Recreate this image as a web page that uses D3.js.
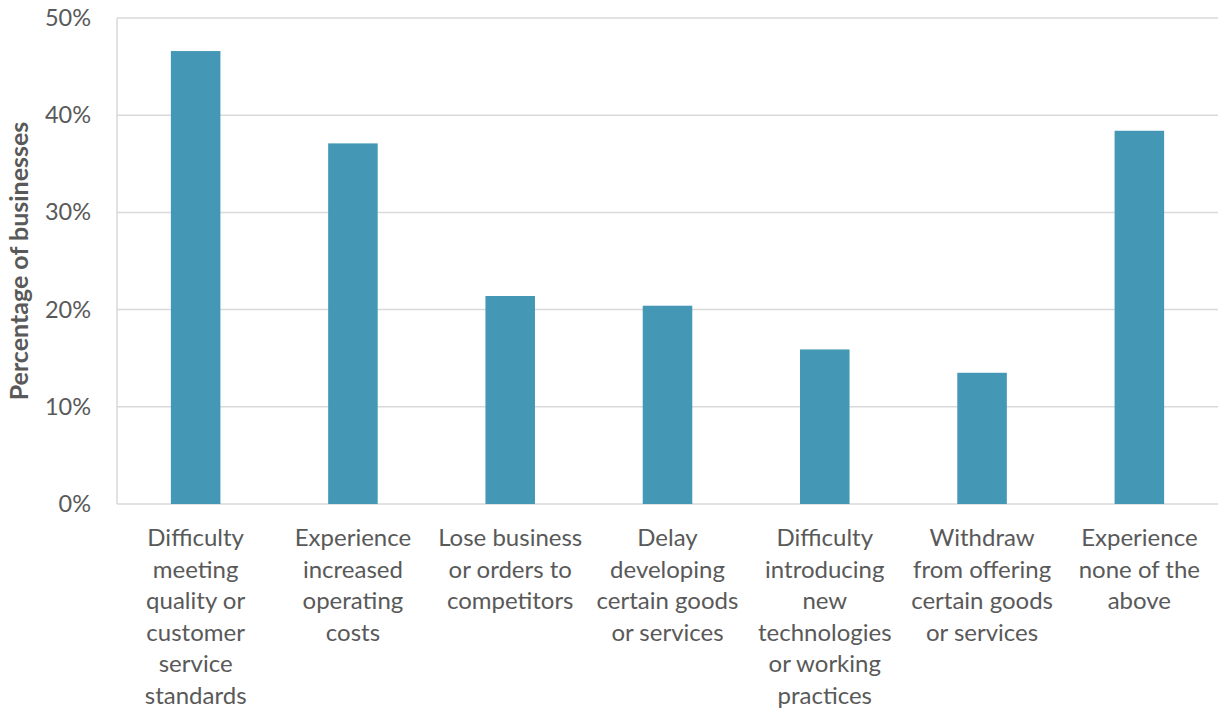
<!DOCTYPE html>
<html>
<head>
<meta charset="utf-8">
<script src="https://cdn.jsdelivr.net/npm/d3@7"></script>
<style>
  body { margin: 0; background: #fff; }
  svg { display: block; font-family: Lato, "Open Sans", sans-serif; }
</style>
</head>
<body>
<svg id="chart" width="1218" height="711"></svg>
<script>
// Share of businesses reporting each impact
const categories = [
  ["Difficulty", "meeting", "quality or", "customer", "service", "standards"],
  ["Experience", "increased", "operating", "costs"],
  ["Lose business", "or orders to", "competitors"],
  ["Delay", "developing", "certain goods", "or services"],
  ["Difficulty", "introducing", "new", "technologies", "or working", "practices"],
  ["Withdraw", "from offering", "certain goods", "or services"],
  ["Experience", "none of the", "above"]
];
const values = [46.6, 37.1, 21.4, 20.4, 15.9, 13.5, 38.4];
const yTicks = [0, 10, 20, 30, 40, 50];
const yTitle = "Percentage of businesses";

const svg = d3.select("#chart");
const margin = { left: 117, right: 0, top: 18, bottom: 207 };
const W = 1218, H = 711;

const x = d3.scaleBand()
  .domain(d3.range(categories.length))
  .range([margin.left, W - margin.right])
  .paddingInner(0.685)
  .paddingOuter(0.3425);

const y = d3.scaleLinear()
  .domain([0, 50])
  .range([H - margin.bottom, margin.top]);

// Horizontal gridlines
svg.append("g")
  .selectAll("line")
  .data(yTicks)
  .join("line")
  .attr("x1", margin.left)
  .attr("x2", W)
  .attr("y1", d => y(d))
  .attr("y2", d => y(d))
  .attr("stroke", "#d9d9d9")
  .attr("stroke-width", 1.5);

// Vertical axis line
svg.append("line")
  .attr("x1", margin.left).attr("x2", margin.left)
  .attr("y1", y(50)).attr("y2", y(0))
  .attr("stroke", "#d9d9d9")
  .attr("stroke-width", 1.5);

// Y tick labels
const yAxis = d3.axisLeft(y).tickValues(yTicks).tickFormat(d => d + "%").tickSize(0).tickPadding(26);
const gy = svg.append("g").attr("transform", `translate(${margin.left},0)`).call(yAxis);
gy.select(".domain").remove();
gy.selectAll("text")
  .attr("fill", "#595959")
  .style("font-size", "23.5px")
  .style("font-family", "Lato, 'Open Sans', sans-serif");

// Bars
svg.append("g")
  .selectAll("rect")
  .data(values)
  .join("rect")
  .attr("x", (d, i) => x(i))
  .attr("width", x.bandwidth())
  .attr("y", d => y(d))
  .attr("height", d => y(0) - y(d))
  .attr("fill", "#4498b6");

// Category labels (multi-line)
const labels = svg.append("g")
  .selectAll("text")
  .data(categories)
  .join("text")
  .attr("x", (d, i) => x(i) + x.bandwidth() / 2)
  .attr("y", 546)
  .attr("text-anchor", "middle")
  .attr("fill", "#595959")
  .style("font-size", "24px");
labels.selectAll("tspan")
  .data(d => d)
  .join("tspan")
  .attr("x", function () { return this.parentNode.getAttribute("x"); })
  .attr("dy", (d, i) => i === 0 ? 0 : 31.6)
  .text(d => d);

// Y axis title
svg.append("text")
  .attr("transform", `translate(28,${(y(0) + y(50)) / 2}) rotate(-90)`)
  .attr("text-anchor", "middle")
  .attr("fill", "#595959")
  .style("font-size", "25px")
  .style("font-weight", "bold")
  .text(yTitle);
</script>
</body>
</html>
